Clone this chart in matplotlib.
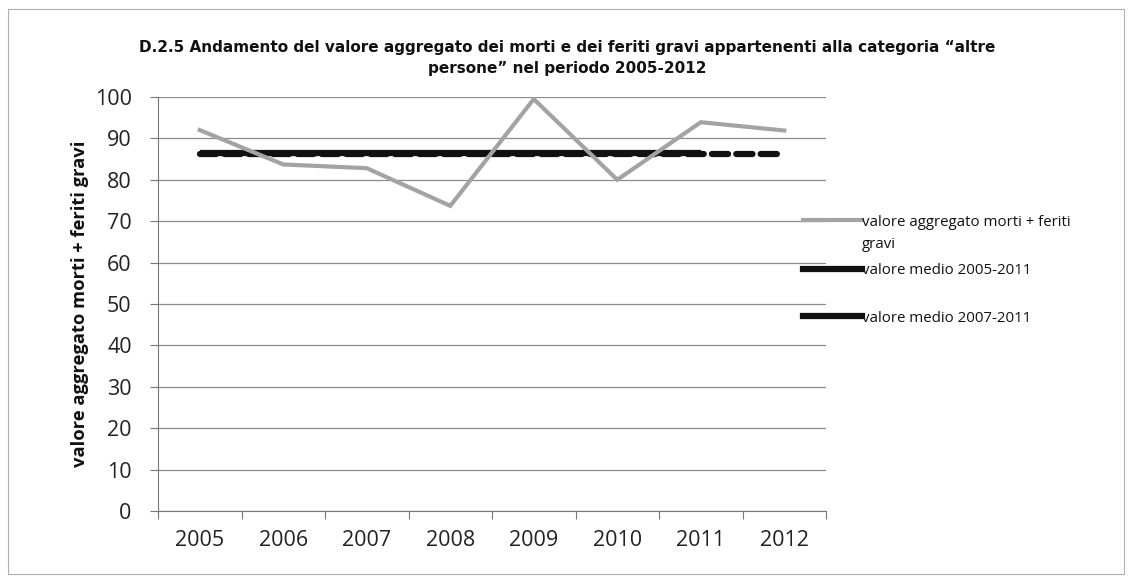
import numpy as np
import matplotlib
matplotlib.use('Agg')
import matplotlib.pyplot as plt
from matplotlib.patches import Rectangle

anni = ['2005', '2006', '2007', '2008', '2009', '2010', '2011', '2012']
valore_aggregato = [92, 83.7, 82.8, 73.7, 99.5, 80, 93.9, 91.9]
media_2005_2011 = [86.4, 86.4, 86.4, 86.4, 86.4, 86.4, 86.4, None]
media_2007_2011 = [86.2, 86.2, 86.2, 86.2, 86.2, 86.2, 86.2, 86.2]

titolo = ('D.2.5 Andamento del valore aggregato dei morti e dei feriti gravi appartenenti alla categoria \u201caltre\n'
          'persone\u201d nel periodo 2005-2012')
etichette = ['valore aggregato morti + feriti', 'valore medio 2005-2011', 'valore medio 2007-2011']

plt.rcParams['font.family'] = ['Open Sans', 'DejaVu Sans']

fig = plt.figure(figsize=(11.32, 5.8), dpi=100)
ax = fig.add_axes([0.1396, 0.119, 0.5901, 0.7138])

x = np.arange(len(anni))
m1 = np.array([np.nan if v is None else v for v in media_2005_2011], dtype=float)
m2 = np.array(media_2007_2011, dtype=float)

l1, = ax.plot(x, valore_aggregato, color='#a3a3a3', lw=3, solid_joinstyle='miter', zorder=4)
l3, = ax.plot(x, m2, color='#111111', lw=4.5, linestyle=(0, (2.6, 1.3)),
              dash_capstyle='round', zorder=3)
l2, = ax.plot(x, m1, color='#111111', lw=4.5, solid_capstyle='butt', zorder=3)

ax.set_xlim(-0.5, len(anni) - 0.5)
ax.set_ylim(0, 100)
ax.set_yticks(np.arange(0, 101, 10))
ax.set_xticks(np.arange(-0.5, len(anni), 1))
ax.set_xticklabels([])
ax.set_xticks(x, minor=True)
ax.set_xticklabels(anni, minor=True)
ax.tick_params(axis='x', which='major', length=6, color='#777777', direction='out')
ax.tick_params(axis='x', which='minor', length=0, pad=14, labelsize=15.5, labelcolor='#222222')
ax.tick_params(axis='y', length=6, color='#777777', labelsize=15.5, labelcolor='#222222', pad=13)
ax.grid(axis='y', color='#8c8c8c', lw=0.9)
ax.set_axisbelow(True)
for s in ['top', 'right']:
    ax.spines[s].set_visible(False)
ax.spines['left'].set_color('#777777')
ax.spines['bottom'].set_color('#777777')

ax.set_ylabel('valore aggregato morti + feriti gravi', fontsize=13.2, fontweight='bold',
              labelpad=4, color='#111111')

fig.text(0.501, 0.9, titolo, ha='center', va='center', fontsize=11,
         fontweight='bold', linespacing=1.55, color='#111111',
         family=['DejaVu Sans'])

# legenda: una voce alla volta, come in Excel (maniglia allineata alla prima riga)
leg_handles = [l1, plt.Line2D([], [], color='#111111', lw=4.5),
               plt.Line2D([], [], color='#111111', lw=4.5)]
leg_y = [222, 271, 318]
for h, lab, yy in zip(leg_handles, etichette, leg_y):
    leg = fig.legend([h], [lab], loc='center left',
                     bbox_to_anchor=(803 / 1132, 1 - yy / 580), frameon=False,
                     fontsize=10.8, handlelength=3.9, handletextpad=0.05,
                     borderpad=0, borderaxespad=0)
    for t in leg.get_texts():
        t.set_color('#111111')
fig.text(862 / 1132, 1 - 245 / 580, 'gravi', ha='left', va='center',
         fontsize=10.8, color='#111111')

fig.patches.append(Rectangle((0.007, 0.01), 0.986, 0.975, transform=fig.transFigure,
                             fill=False, edgecolor='#b0b0b0', lw=0.8))

fig.savefig('out.png', dpi=100)
